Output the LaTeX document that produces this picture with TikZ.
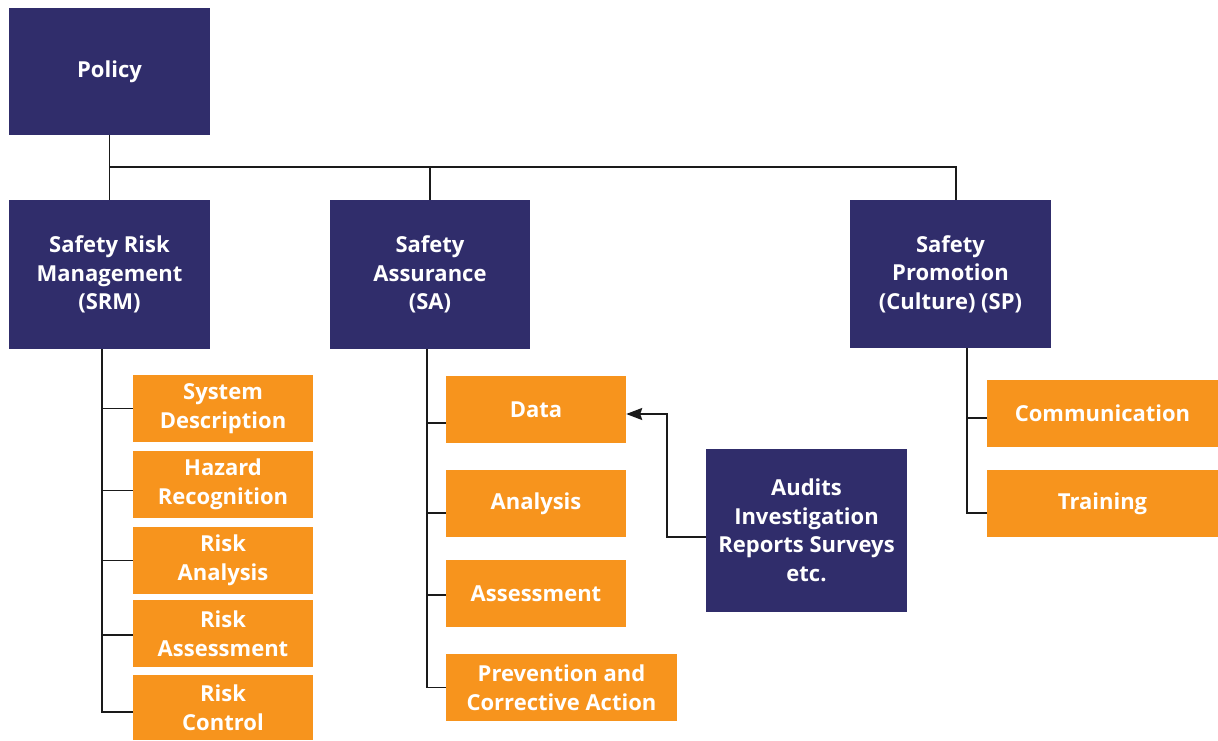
\documentclass[tikz,border=0pt]{standalone}
\usepackage{fontspec}
\setmainfont{Open Sans}
\usetikzlibrary{arrows.meta,calc}
\definecolor{navy}{HTML}{302D6B}
\definecolor{orng}{HTML}{F7941D}
\definecolor{linec}{HTML}{1A1A1A}
\begin{document}
\begin{tikzpicture}[x=1pt,y=-1pt,
  box/.style={inner sep=0pt, align=center, text=white, font=\bfseries\fontsize{22}{28.5}\selectfont},
  navybox/.style={box, fill=navy},
  orangebox/.style={box, fill=orng},
  conn/.style={draw=linec, line width=1.8pt},
  arr/.style={conn, -{Stealth[length=16pt,width=12pt,inset=2pt]}}]
\useasboundingbox (0,0) rectangle (1218,740);
% top level
\node[navybox, minimum width=201pt, minimum height=127pt] (policy) at (109.5,71.5) {Policy};
\node[navybox, minimum width=201pt, minimum height=149pt] (srm) at (109.5,274.5) {Safety Risk\\Management\\(SRM)};
\node[navybox, minimum width=200pt, minimum height=149pt] (sa) at (430,274.5) {Safety\\Assurance\\(SA)};
\node[navybox, minimum width=201pt, minimum height=148pt] (sp) at (950.5,274) {Safety\\Promotion\\(Culture) (SP)};
% SRM children
\node[orangebox, minimum width=180pt, minimum height=67pt] (sd) at (223,408.5) {System\\Description};
\node[orangebox, minimum width=180pt, minimum height=67pt] (hr) at (223,484.5) {Hazard\\Recognition};
\node[orangebox, minimum width=180pt, minimum height=67pt] (ra) at (223,560.5) {Risk\\Analysis};
\node[orangebox, minimum width=180pt, minimum height=67pt] (rass) at (223,633.5) {Risk\\Assessment};
\node[orangebox, minimum width=180pt, minimum height=65pt] (rc) at (223,707.5) {Risk\\Control};
% SA children
\node[orangebox, minimum width=180pt, minimum height=67pt] (data) at (536,409.5) {Data};
\node[orangebox, minimum width=180pt, minimum height=67pt] (an) at (536,503.5) {Analysis};
\node[orangebox, minimum width=180pt, minimum height=67pt] (as) at (536,593.5) {Assessment};
\node[orangebox, minimum width=231pt, minimum height=67pt] (pca) at (561.5,687.5) {Prevention and\\Corrective Action};
\node[navybox, minimum width=201pt, minimum height=163pt] (aud) at (806.5,530.5) {Audits\\Investigation\\Reports Surveys\\etc.};
% SP children
\node[orangebox, minimum width=231pt, minimum height=67pt] (com) at (1102.5,413.5) {Communication};
\node[orangebox, minimum width=231pt, minimum height=67pt] (tr) at (1102.5,503.5) {Training};
% connectors top
\coordinate (bus) at (109.5,167);
\draw[conn] (policy.south) -- (srm.north);
\draw[conn] (bus) -| (sa.north);
\draw[conn] (bus) -| ([xshift=5.5pt]sp.north);
% SRM tree
\coordinate (srmt) at ([xshift=-7.5pt]srm.south);
\foreach \n/\o in {sd/0,hr/-6,ra/0,rass/-1.5,rc/-4.5}
  \draw[conn] (srmt) |- ([yshift=\o pt]\n.west);
% SA tree
\coordinate (sat) at ([xshift=-3pt]sa.south);
\foreach \n/\o in {data/-13.5,an/-9.5,as/-1.5,pca/0}
  \draw[conn] (sat) |- ([yshift=\o pt]\n.west);
% SP tree
\coordinate (spt) at ([xshift=16.5pt]sp.south);
\foreach \n/\o in {com/-4.5,tr/-9.5}
  \draw[conn] (spt) |- ([yshift=\o pt]\n.west);
% arrow
\coordinate (bend) at (667,414);
\draw[arr] ([yshift=-6.5pt]aud.west) -| (bend) -- ([yshift=-4.5pt]data.east);
\end{tikzpicture}
\end{document}
